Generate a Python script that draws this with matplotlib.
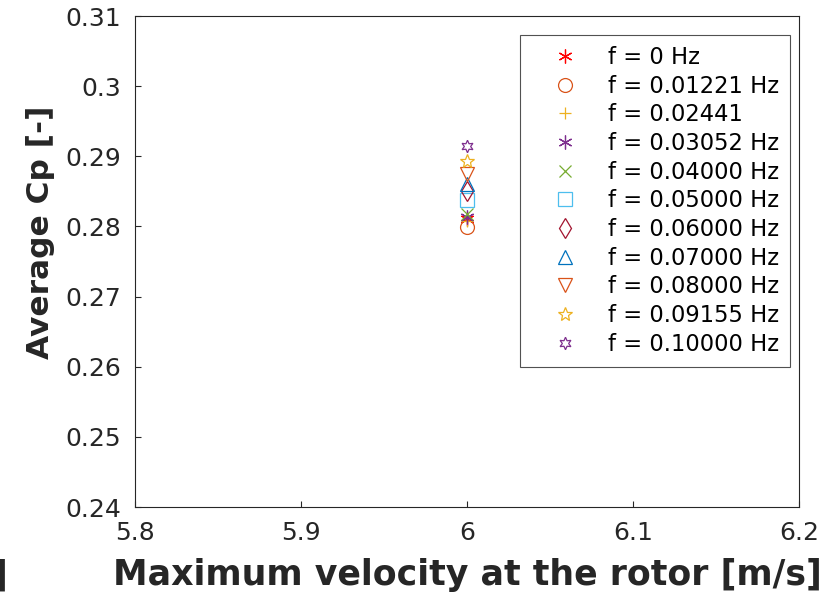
import matplotlib
matplotlib.use("Agg")
import matplotlib.pyplot as plt

labels = ["f = 0 Hz", "f = 0.01221 Hz", "f = 0.02441", "f = 0.03052 Hz", "f = 0.04000 Hz",
          "f = 0.05000 Hz", "f = 0.06000 Hz", "f = 0.07000 Hz", "f = 0.08000 Hz",
          "f = 0.09155 Hz", "f = 0.10000 Hz"]
vmax = [6.0] * 11
cp = [0.2810, 0.2799, 0.2808, 0.2814, 0.2818, 0.2837, 0.2851, 0.2861, 0.2875, 0.2894, 0.2914]
markers = ["*", "o", "+", "*", "x", "s", "d", "^", "v", "*", "h"]
colors = ["#ff0000", "#d95319", "#edb120", "#7e2f8e", "#77ac30", "#4dbeee", "#a2142f",
          "#0072bd", "#d95319", "#edb120", "#7e2f8e"]

fig = plt.figure(figsize=(8.27, 5.93), dpi=100)
ax = fig.add_axes([0.1632, 0.145, 0.8029, 0.828])
for x, y, m, c, l in zip(vmax, cp, markers, colors, labels):
    if m == "*" and l in ("f = 0 Hz", "f = 0.03052 Hz"):
        ax.plot(x, y, linestyle="none", marker=(6, 2, 0), color=c, markersize=10,
                markeredgewidth=0.9, label=l)
    elif m == "*":
        ax.plot(x, y, linestyle="none", marker="*", markerfacecolor="none",
                markeredgecolor=c, markersize=10, markeredgewidth=0.9, label=l)
    elif m == "h":
        ax.plot(x, y, linestyle="none", marker=(6, 1, 0), markerfacecolor="none",
                markeredgecolor=c, markersize=9, markeredgewidth=0.9, label=l)
    elif m in ("+", "x"):
        ax.plot(x, y, linestyle="none", marker=m, color=c, markersize=9,
                markeredgewidth=0.9, label=l)
    else:
        ax.plot(x, y, linestyle="none", marker=m, markerfacecolor="none",
                markeredgecolor=c, markersize=10, markeredgewidth=0.9, label=l)

ax.set_xlim(5.8, 6.2)
ax.set_ylim(0.24, 0.31)
ax.set_xticks([5.8, 5.9, 6.0, 6.1, 6.2])
ax.set_xticklabels(["5.8", "5.9", "6", "6.1", "6.2"])
ax.set_yticks([0.24, 0.25, 0.26, 0.27, 0.28, 0.29, 0.30, 0.31])
ax.set_yticklabels(["0.24", "0.25", "0.26", "0.27", "0.28", "0.29", "0.3", "0.31"])
ax.tick_params(direction="in", labelsize=18, length=4, width=0.8, colors="#262626", pad=10)
for s in ax.spines.values():
    s.set_color("#262626")
    s.set_linewidth(0.8)
ax.set_xlabel("Maximum velocity at the rotor [m/s]", fontsize=25, fontweight="bold",
              color="#262626")
ax.xaxis.set_label_coords(0.5, -0.103)
ax.set_ylabel("Average Cp [-]", fontsize=22.5, fontweight="bold", color="#262626")
ax.yaxis.set_label_coords(-0.121, 0.56)
leg = ax.legend(loc="upper right", fontsize=16.3, frameon=True, fancybox=False,
                edgecolor="#262626", borderpad=0.5, labelspacing=0.25, handletextpad=0.45,
                handlelength=2.9, borderaxespad=0, bbox_to_anchor=(0.9865, 0.962))
leg.get_frame().set_linewidth(0.8)
fig.text(7 / 827, 0.012, "]", fontsize=25, fontweight="bold", color="#262626",
         ha="right", va="baseline")
fig.savefig("out.png", dpi=100)
